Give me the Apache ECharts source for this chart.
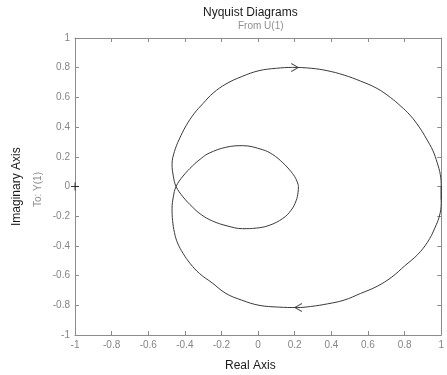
<!DOCTYPE html>
<html>
<head>
<meta charset="utf-8">
<script src="https://cdn.jsdelivr.net/npm/echarts@6/dist/echarts.min.js"></script>
<style>
  html, body { margin: 0; padding: 0; background: #fff; }
  #chart { width: 447px; height: 375px; }
</style>
</head>
<body>
<div id="chart"></div>
<script>
// positive frequencies: w = 0 -> inf  [real, imag]
var branchPos = [
  [1.00, 0.00], [1.00, -0.09], [0.994, -0.18], [0.965, -0.28], [0.925, -0.375],
  [0.87, -0.46], [0.80, -0.535], [0.73, -0.61], [0.65, -0.672], [0.56, -0.72],
  [0.47, -0.765], [0.38, -0.79], [0.287, -0.808], [0.214, -0.815], [0.11, -0.812],
  [0.005, -0.80], [-0.09, -0.765], [-0.176, -0.72], [-0.25, -0.65], [-0.32, -0.586],
  [-0.37, -0.52], [-0.41, -0.45], [-0.44, -0.38], [-0.457, -0.31], [-0.467, -0.23],
  [-0.47, -0.15], [-0.463, -0.07], [-0.448, 0.00], [-0.41, 0.07], [-0.357, 0.14],
  [-0.31, 0.19], [-0.267, 0.225], [-0.176, 0.264], [-0.085, 0.275], [0.024, 0.248],
  [0.08, 0.215], [0.135, 0.16], [0.18, 0.10], [0.205, 0.055], [0.218, 0.015], [0.22, 0.00]
];
// negative frequencies: w = -inf -> 0
var branchNeg = [
  [0.22, 0.00], [0.218, -0.04], [0.208, -0.095], [0.18, -0.16], [0.135, -0.215],
  [0.06, -0.262], [-0.01, -0.28], [-0.085, -0.284], [-0.17, -0.265], [-0.25, -0.232],
  [-0.31, -0.19], [-0.357, -0.14], [-0.41, -0.07], [-0.448, 0.00], [-0.463, 0.07],
  [-0.47, 0.15], [-0.457, 0.235], [-0.43, 0.32], [-0.393, 0.41], [-0.35, 0.49],
  [-0.30, 0.56], [-0.245, 0.63], [-0.176, 0.69], [-0.09, 0.74], [0.005, 0.78],
  [0.10, 0.796], [0.187, 0.802], [0.29, 0.796], [0.377, 0.78], [0.47, 0.75],
  [0.559, 0.71], [0.65, 0.66], [0.722, 0.60], [0.78, 0.54], [0.83, 0.48],
  [0.88, 0.40], [0.92, 0.32], [0.955, 0.24], [0.978, 0.16], [0.995, 0.08], [1.00, 0.00]
];
// arrow heads on the curve [real, imag, direction deg]
var arrows = [
  [0.20, 0.802, 0],
  [0.22, -0.815, 180]
];
var critical = [[-1, 0]];

var chart = echarts.init(document.getElementById('chart'));

var axisGray = '#8c8c8c';
var font = 'Liberation Sans, Arial, sans-serif';

// one closed loop; the first segment is repeated so the join at (1,0) stays smooth
var loop = branchPos.concat(branchNeg.slice(1), branchPos.slice(1, 2));

function makeAxis(pos, show) {
  return {
    type: 'value',
    position: pos,
    min: -1,
    max: 1,
    interval: 0.2,
    axisLine: { show: true, onZero: false, lineStyle: { color: axisGray, width: 1 } },
    axisTick: { show: true, inside: true, length: 4, lineStyle: { color: axisGray } },
    axisLabel: {
      show: show,
      color: '#858585',
      fontSize: 10,
      fontFamily: font,
      margin: 5,
      formatter: function (v) { return String(Math.round(v * 10) / 10); }
    },
    splitLine: { show: false }
  };
}

chart.setOption({
  backgroundColor: '#fff',
  animation: false,
  grid: { left: 75, right: 3, top: 38, bottom: 40 },
  xAxis: [makeAxis('bottom', true), makeAxis('top', false)],
  yAxis: [makeAxis('left', true), makeAxis('right', false)],
  graphic: [
    { type: 'text', left: 203, top: 7, style: { text: 'Nyquist Diagrams', fill: '#1a1a1a', font: '12px ' + font } },
    { type: 'text', left: 238, top: 21, style: { text: 'From U(1)', fill: '#8f8f8f', font: '10px ' + font } },
    { type: 'text', left: 225, top: 360, style: { text: 'Real Axis', fill: '#1a1a1a', font: '12px ' + font } },
    { type: 'text', x: 11, y: 226, rotation: Math.PI / 2, style: { text: 'Imaginary Axis', fill: '#1a1a1a', font: '12px ' + font } },
    { type: 'text', x: 33, y: 207, rotation: Math.PI / 2, style: { text: 'To: Y(1)', fill: '#8f8f8f', font: '10px ' + font } }
  ],
  series: [
    {
      type: 'line',
      data: loop,
      smooth: 0.4,
      showSymbol: false,
      lineStyle: { color: '#3a3a3a', width: 1 }
    },
    {
      type: 'scatter',
      data: arrows.map(function (a) {
        return { value: [a[0], a[1]], symbolRotate: a[2] };
      }),
      symbol: 'path://M0,0L9,5L0,10',
      symbolSize: [7, 8],
      symbolKeepAspect: false,
      itemStyle: { color: 'none', borderColor: '#2a2a2a', borderWidth: 1 }
    },
    {
      type: 'scatter',
      data: critical,
      symbol: 'path://M0,5L10,5M5,0L5,10',
      symbolSize: 8,
      itemStyle: { color: 'none', borderColor: '#111', borderWidth: 1 }
    }
  ]
});
</script>
</body>
</html>
